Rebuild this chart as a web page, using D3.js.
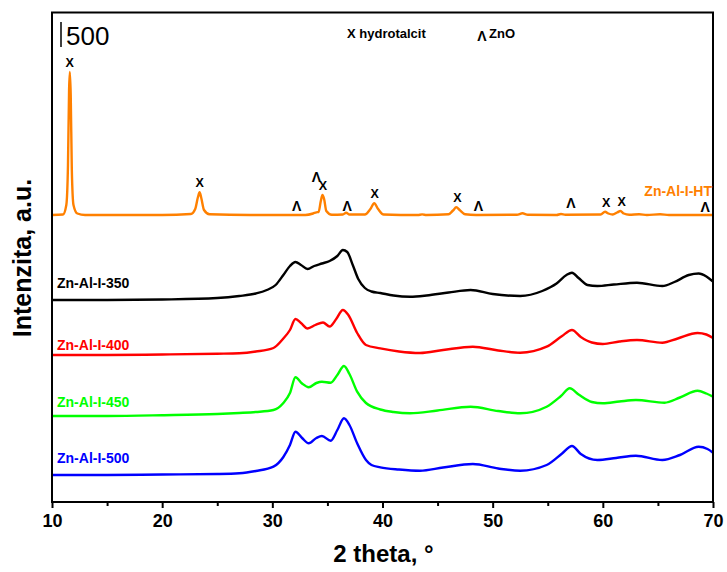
<!DOCTYPE html>
<html><head><meta charset="utf-8">
<script src="https://cdn.jsdelivr.net/npm/d3@7"></script>
<style>
html,body{margin:0;padding:0;background:#fff;}
text{font-family:"Liberation Sans",Arial,sans-serif;}
</style></head>
<body><svg id="chart" width="727" height="572"></svg>
<script>
// ---------- DATA ----------
const seriesNames = ["Zn-Al-I-HT", "Zn-Al-I-350", "Zn-Al-I-400", "Zn-Al-I-450", "Zn-Al-I-500"];
const seriesColors = ["#ff8000", "#000000", "#ff0000", "#00ff00", "#0000ff"];
const seriesOffsets = [5740, 4040, 2940, 1720, 540];

const htData = [[10,0],[11.0,10],[11.3,200],[11.45,1000],[11.55,2500],[11.62,2860],[11.7,2400],[11.8,900],[11.95,200],[12.3,30],[13,0],[20,0],[22.6,20],[23.0,120],[23.25,360],[23.4,454],[23.55,340],[23.8,100],[24.3,15],[28,0],[33,0],[33.7,30],[34.0,54],[34.2,60],[34.4,280],[34.55,400],[34.7,320],[34.9,80],[35.4,5],[36.4,10],[36.7,46],[37.0,10],[38.4,10],[38.9,120],[39.25,234],[39.6,120],[40.1,10],[43.2,0],[43.6,12],[44,0],[46.0,15],[46.4,90],[46.7,154],[47.0,100],[47.5,15],[48.5,0],[52.2,5],[52.7,34],[53.2,5],[55.8,0],[56.2,20],[56.6,5],[59.8,10],[60.2,66],[60.5,30],[60.9,10],[61.3,50],[61.6,80],[61.9,30],[62.4,5],[63.3,14],[64,0],[65.2,14],[66,0],[70,0]];

const s350Data = [[10,0],[15,0],[20,10],[25,40],[27,80],[28.5,130],[29.5,200],[30.3,300],[31.0,500],[31.6,680],[32.1,760],[32.6,700],[33.2,620],[33.8,680],[34.5,730],[35.2,780],[35.9,880],[36.4,1000],[36.8,960],[37.3,700],[37.8,420],[38.4,240],[39.0,170],[39.8,140],[41,90],[42.5,66],[44,90],[46,150],[48,200],[50,120],[52.5,80],[54.5,180],[55.8,330],[56.7,500],[57.2,546],[57.8,440],[58.6,300],[59.5,280],[61,310],[63.1,346],[65.4,280],[66.5,360],[67.8,500],[68.7,530],[69.4,470],[70,366]];

const s400Data = [[10,0],[15,0],[20,10],[25,25],[27,35],[28.5,70],[30.1,140],[31.0,330],[31.6,500],[32.1,720],[32.6,640],[33.2,530],[33.9,600],[34.6,650],[35.2,570],[35.8,720],[36.4,900],[36.9,800],[37.7,440],[38.5,200],[39.8,133],[41.5,70],[43.4,40],[45.5,100],[48.2,166],[50.5,90],[52.5,46],[54.9,166],[56.3,380],[57.2,500],[58.0,360],[59.0,250],[60,220],[61.5,270],[63.1,300],[65.4,246],[66.8,330],[68.6,440],[69.4,410],[70,340]];

const s450Data = [[10,0],[15,0],[20,15],[25,40],[27,60],[28.5,80],[30.1,120],[31.0,260],[31.6,460],[32.1,774],[32.7,650],[33.3,574],[34.0,660],[34.5,686],[35.3,666],[35.9,820],[36.5,1000],[37.0,840],[37.7,486],[38.5,260],[39.8,130],[41,80],[42.5,54],[45,110],[48,186],[50.5,100],[52.5,54],[54.9,186],[56.2,400],[57.0,554],[57.8,430],[59,280],[60,254],[61.5,290],[63,320],[65.6,266],[67,370],[68.6,506],[69.4,450],[70,386]];

const s500Data = [[10,0],[15,0],[20,10],[25,20],[27,34],[28.5,80],[30.1,166],[31.0,360],[31.6,600],[32.1,866],[32.7,740],[33.3,634],[34.0,740],[34.5,780],[35.3,686],[35.9,900],[36.5,1134],[37.0,1000],[37.7,634],[38.5,300],[39.0,200],[39.8,154],[41.5,110],[43.4,86],[45.5,150],[48.2,220],[50.5,130],[52.5,86],[54.9,200],[56.3,430],[57.2,580],[58.0,420],[59.5,300],[61.2,340],[63,386],[65.4,300],[67,400],[68.7,566],[69.5,520],[70,446]];

const seriesData = [htData, s350Data, s400Data, s450Data, s500Data];

const hydroMarks = [11.6, 23.4, 34.6, 39.3, 46.8, 60.3, 61.7];
const znoMarks = [32.2, 34.0, 36.8, 48.7, 57.1, 69.3];
const znoLevels = [190, 760, 190, 190, 250, 160];

const xTicks = [10, 20, 30, 40, 50, 60, 70];
const xMinorTicks = [15, 25, 35, 45, 55, 65];
const scaleBarValue = 500;
const scaleBarBase = 9100;

// ---------- CHART ----------
const W = 727, H = 572;
const margin = {left: 52, top: 12.5, right: 14, bottom: 70};
const svg = d3.select("#chart");
const x = d3.scaleLinear().domain([10, 70]).range([margin.left, W - margin.right]);
const y = d3.scaleLinear().domain([0, 9790]).range([H - margin.bottom, margin.top]);

svg.append("clipPath").attr("id", "clip").append("rect")
  .attr("x", x(10)).attr("y", y(9790)).attr("width", x(70) - x(10)).attr("height", y(0) - y(9790));

const g = svg.append("g").attr("clip-path", "url(#clip)");
seriesData.forEach((data, i) => {
  const off = seriesOffsets[i];
  const line = d3.line().x(d => x(d[0])).y(d => y(d[1] + off)).curve(d3.curveMonotoneX);
  g.append("path").datum(data).attr("d", line)
    .attr("fill", "none").attr("stroke", seriesColors[i])
    .attr("stroke-width", 2.4).attr("stroke-linejoin", "round");
});

// Axes
const xAxis = d3.axisBottom(x).tickValues(xTicks).tickSize(6).tickPadding(6).tickFormat(d3.format("d"));
const ax = svg.append("g").attr("transform", `translate(0,${y(0)})`).call(xAxis);
ax.select(".domain").remove();
ax.selectAll(".tick line").attr("stroke", "#000").attr("stroke-width", 2);
ax.selectAll(".tick text").attr("font-size", 18).attr("font-weight", "bold").attr("fill", "#000")
  .attr("font-family", "Liberation Sans, Arial, sans-serif");
const axm = svg.append("g").attr("transform", `translate(0,${y(0)})`)
  .call(d3.axisBottom(x).tickValues(xMinorTicks).tickSize(4).tickFormat(""));
axm.select(".domain").remove();
axm.selectAll(".tick line").attr("stroke", "#000").attr("stroke-width", 2);

// Frame
svg.append("rect").attr("x", x(10)).attr("y", y(9790))
  .attr("width", x(70) - x(10)).attr("height", y(0) - y(9790))
  .attr("fill", "none").attr("stroke", "#000").attr("stroke-width", 2);

// Axis titles
svg.append("text").attr("x", (x(10) + x(70)) / 2 + 1).attr("y", 562)
  .attr("text-anchor", "middle").attr("font-size", 24).attr("font-weight", "bold")
  .text("2 theta, °");
svg.append("text").attr("transform", `translate(31,${258}) rotate(-90)`)
  .attr("text-anchor", "middle").attr("font-size", 25).attr("font-weight", "bold")
  .text("Intenzita, a.u.");

// Series labels
const labelDy = [-24, -17.4, -10.4, -14, -17];
seriesNames.forEach((name, i) => {
  const yb = y(seriesOffsets[i]) + labelDy[i];
  const t = svg.append("text").attr("font-size", 14).attr("font-weight", "bold")
    .attr("fill", seriesColors[i]).attr("dominant-baseline", "central").attr("y", yb).text(name);
  if (i === 0) t.attr("x", x(70) - 1).attr("text-anchor", "end");
  else t.attr("x", x(10) + 5);
});

// Hydrotalcite markers
hydroMarks.forEach(p => {
  const near = htData.filter(d => Math.abs(d[0] - p) <= 0.45);
  const peak = d3.max(near, d => d[1]);
  svg.append("text").attr("x", x(p)).attr("y", y(peak + seriesOffsets[0]) - 9)
    .attr("text-anchor", "middle").attr("dominant-baseline", "central")
    .attr("font-size", 12.5).attr("font-weight", "bold").text("X");
});
// ZnO markers
znoMarks.forEach((p, i) => {
  svg.append("text").attr("x", x(p)).attr("y", y(znoLevels[i] + seriesOffsets[0]))
    .attr("text-anchor", "middle").attr("dominant-baseline", "central")
    .attr("font-size", 14).attr("font-weight", "bold").text("Λ");
});

// Legend
svg.append("text").attr("x", 347).attr("y", 33).attr("dominant-baseline", "central")
  .attr("font-size", 13).attr("font-weight", "bold").text("X hydrotalcit");
svg.append("text").attr("x", 482).attr("y", 36).attr("dominant-baseline", "central")
  .attr("text-anchor", "middle").attr("font-size", 14).attr("font-weight", "bold").text("Λ");
svg.append("text").attr("x", 489).attr("y", 33).attr("dominant-baseline", "central")
  .attr("font-size", 13).attr("font-weight", "bold").text("ZnO");

// Scale bar
svg.append("line").attr("x1", 61).attr("x2", 61)
  .attr("y1", y(scaleBarBase)).attr("y2", y(scaleBarBase + scaleBarValue))
  .attr("stroke", "#000").attr("stroke-width", 1.5);
svg.append("text").attr("x", 66).attr("y", y(scaleBarBase) - 2)
  .attr("font-size", 26).text(String(scaleBarValue));
</script></body></html>
